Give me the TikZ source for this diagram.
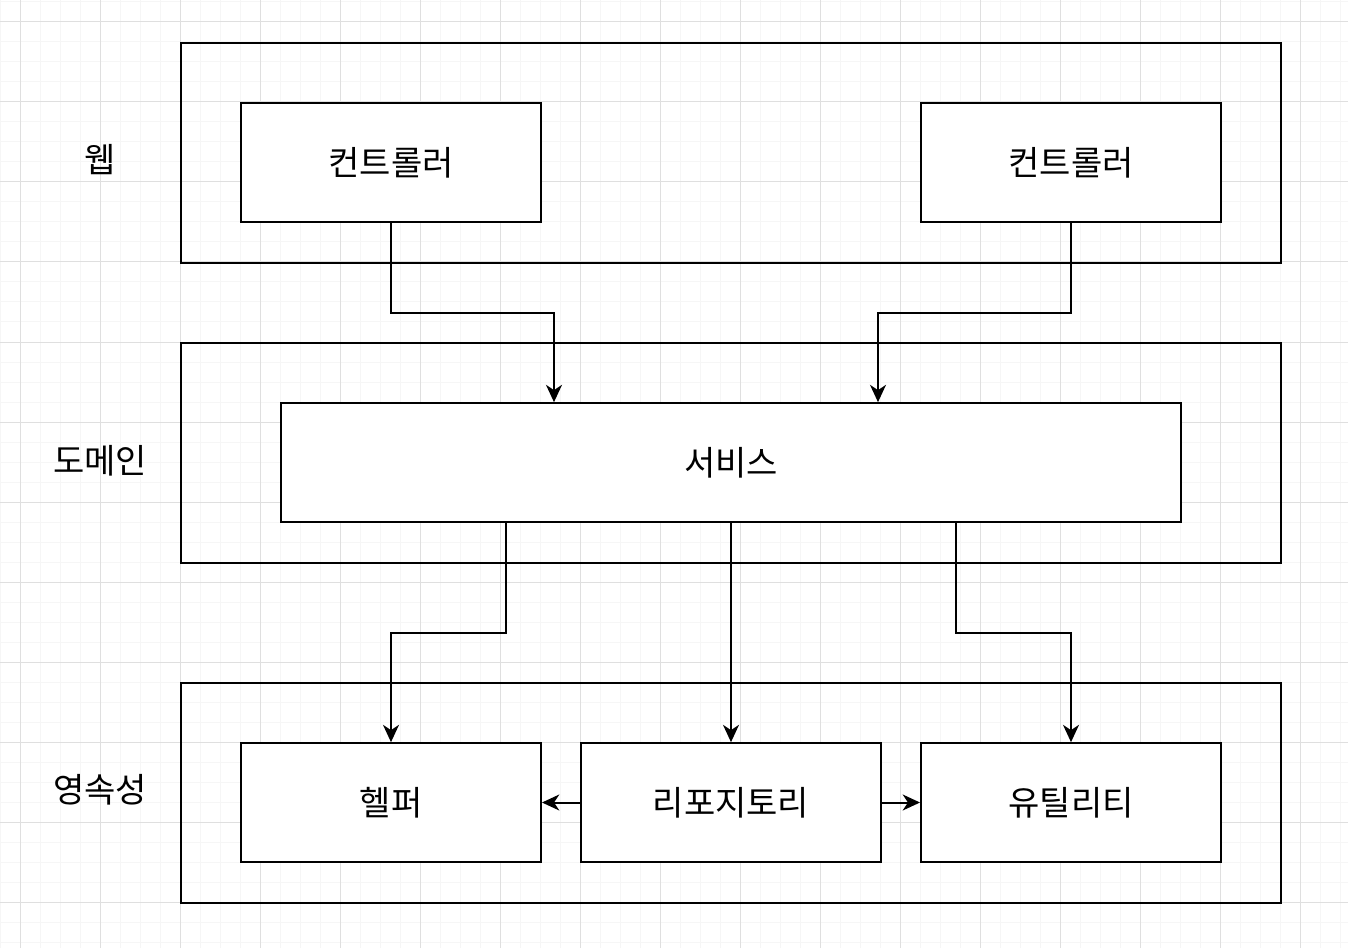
\documentclass[tikz,border=0pt]{standalone}
\usepackage{fontspec}
\setmainfont{Noto Sans CJK KR}
\usetikzlibrary{arrows.meta}

\tikzset{
    minorline/.style={line width=0.75pt, gray!7},
    majorline/.style={line width=0.75pt, gray!25},
    layerbox/.style={draw, line width=1.5pt, minimum width=825pt, minimum height=165pt, inner sep=0pt},
    compbox/.style={draw, fill=white, line width=1.5pt, minimum width=225pt, minimum height=89pt, inner sep=0pt, font=\fontsize{25.5}{30}\selectfont},
    layerlabel/.style={font=\fontsize{25.5}{30}\selectfont},
    arr/.style={line width=1.5pt, -{Stealth[length=13pt, width=12pt, inset=4pt]}}
}

\begin{document}
\begin{tikzpicture}[x=0.75pt, y=-0.75pt]
    \useasboundingbox (0,0) rectangle (1348,948);
    \fill[white] (0,0) rectangle (1348,948);

    % Grid
    \foreach \i in {0,20,...,1340} {
        \draw[minorline] (\i,0) -- (\i,948);
    }
    \foreach \j in {2,22,...,942} {
        \draw[minorline] (0,\j) -- (1348,\j);
    }
    \foreach \i in {20,100,...,1340} {
        \draw[majorline] (\i,0) -- (\i,948);
    }
    \foreach \j in {22,102,...,942} {
        \draw[majorline] (0,\j) -- (1348,\j);
    }

    % Layers
    \node[layerbox] (web) at (731,153) {};
    \node[layerbox] (domain) at (731,453) {};
    \node[layerbox] (persist) at (731,793) {};

    \node[layerlabel] (weblabel) at (100,160) {웹};
    \node[layerlabel] (domainlabel) at (100,461) {도메인};
    \node[layerlabel] (persistlabel) at (100,790) {영속성};

    % Components
    \node[compbox] (ctrlA) at (391,162.5) {컨트롤러};
    \node[compbox] (ctrlB) at (1071,162.5) {컨트롤러};
    \node[compbox, minimum width=675pt] (service) at (731,462.5) {서비스};
    \node[compbox] (helper) at (391,802.5) {헬퍼};
    \node[compbox] (repo) at (731,802.5) {리포지토리};
    \node[compbox] (util) at (1071,802.5) {유틸리티};

    % Bend points
    \coordinate (bendA) at (554,313);
    \coordinate (bendB) at (878,313);
    \coordinate (bendC) at (506,633);
    \coordinate (bendD) at (956,633);

    % Web -> domain
    \draw[arr] (ctrlA.south) |- (bendA) -- (bendA |- service.north);
    \draw[arr] (ctrlB.south) |- (bendB) -- (bendB |- service.north);

    % Domain -> persistence
    \draw[arr] (bendC |- service.south) -- (bendC) -| (helper.north);
    \draw[arr] (service.south) -- (repo.north);
    \draw[arr] (bendD |- service.south) -- (bendD) -| (util.north);

    % Inside persistence
    \draw[arr] (repo.west) -- (helper.east);
    \draw[arr] (repo.east) -- (util.west);
\end{tikzpicture}
\end{document}
